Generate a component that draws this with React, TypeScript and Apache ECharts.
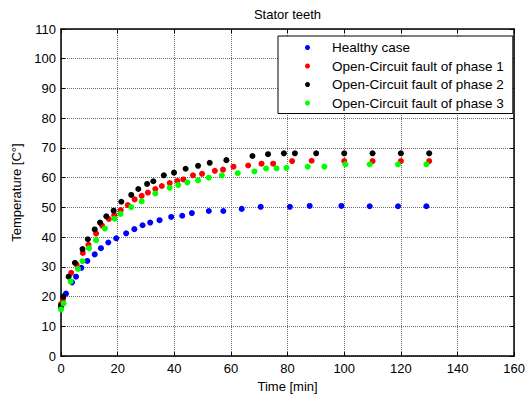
import React, { useEffect, useRef } from "react";
import * as echarts from "echarts";

const titleText = "Stator teeth";
const xName = "Time [min]";
const yName = "Temperature [C°]";
const seriesNames = [
  "Healthy case",
  "Open-Circuit fault of phase 1",
  "Open-Circuit fault of phase 2",
  "Open-Circuit fault of phase 3",
];
const seriesColors = ["#0000ff", "#ff0000", "#000000", "#00ff00"];

const healthyTime = [0, 1.75, 3.9, 5.3, 7.2, 9.3, 11.9, 14.1, 16.7, 19.5, 23, 25.9, 28.8, 31.5, 34.8, 38.9, 42.8, 46.2, 52.2, 57.3, 63.8, 70.5, 80.8, 87.8, 99, 109, 119, 129];
const healthyTemp = [16.5, 21, 24.8, 26.7, 29.7, 32, 34.2, 36.3, 38.2, 39.6, 41.3, 42.7, 44, 44.9, 45.7, 46.8, 47.2, 48.1, 48.8, 48.8, 49.5, 50.2, 50.2, 50.5, 50.5, 50.4, 50.4, 50.4];

const phase1Time = [0, 0.7, 3.6, 5.5, 7.7, 9.7, 12.4, 14.5, 16.9, 18.8, 21.1, 23.6, 26, 28.5, 30.7, 33.3, 35.6, 38.4, 41.1, 43.2, 46.6, 49.8, 54.3, 57.2, 60.9, 66.1, 70.8, 74.9, 81.6, 88.5, 100, 110, 120, 130];
const phase1Temp = [17.5, 19, 28, 30.8, 34.7, 37.4, 41.2, 43.9, 46.1, 47.4, 49.1, 50.8, 52.7, 53.9, 55, 56.2, 57.2, 58.2, 58.9, 59.4, 60.8, 61.3, 62.3, 62.7, 63.7, 64.1, 64.7, 64.7, 65.6, 65.7, 65.6, 65.6, 65.6, 65.6];

const phase2Time = [0, 0.8, 2.7, 4.9, 7.6, 9.5, 11.9, 13.8, 16, 18.6, 21.3, 24.8, 27.3, 30.4, 32.6, 36.3, 39.9, 44, 48.4, 52.5, 58.4, 67.6, 73.1, 78.7, 82.6, 90.1, 100, 110, 120, 130];
const phase2Temp = [17, 20, 26.7, 31.4, 36, 39.3, 42.6, 44.9, 47, 48.9, 51.9, 54.2, 56.2, 57.9, 58.8, 60.8, 61.7, 63, 64, 65, 65.9, 67.3, 67.9, 68.2, 68.2, 68.2, 68.2, 68.2, 68.2, 68.2];

const phase3Time = [0, 0.9, 3.4, 6, 7.6, 9.9, 12.4, 15.5, 18.9, 21, 24.8, 28.5, 33.3, 38.4, 41.4, 44.6, 48.4, 52.2, 56.8, 62.4, 68.3, 72.4, 76.1, 79.6, 87.1, 93, 100.4, 109, 119, 129];
const phase3Temp = [15.7, 17.7, 25.1, 29.3, 31.9, 36.3, 39, 42.9, 46.2, 47.8, 50.1, 52, 54.7, 56.6, 57.5, 58.4, 59.1, 60, 60.8, 61.5, 62.1, 63.1, 63.1, 63.3, 63.7, 63.7, 64.5, 64.5, 64.5, 64.5];

const seriesTimes = [healthyTime, phase1Time, phase2Time, phase3Time];
const seriesTemps = [healthyTemp, phase1Temp, phase2Temp, phase3Temp];

const FONT = "'Liberation Sans', Arial, sans-serif";

export default function App() {
  const ref = useRef<HTMLDivElement>(null);
  useEffect(() => {
    const chart = echarts.init(ref.current!, null, { renderer: "svg" });
    const gridLeft = 61;
    const gridRight = 10;
    const centerX = gridLeft + (528 - gridLeft - gridRight) / 2;
    const axisLine = { show: true, onZero: false, lineStyle: { color: "#000", width: 1.5 } };
    const tick = { show: true, inside: true, length: 4, lineStyle: { color: "#000", width: 1 } };
    const split = { show: true, lineStyle: { color: "#6a6a6a", type: "dotted" as const, width: 1 } };
    const label = { color: "#000", fontSize: 13, fontFamily: FONT };
    chart.setOption({
      animation: false,
      backgroundColor: "#fff",
      title: {
        text: titleText,
        left: centerX - 2,
        top: 8,
        textAlign: "center",
        padding: 0,
        textStyle: { color: "#000", fontSize: 13, fontWeight: "normal", fontFamily: FONT },
      },
      grid: { left: gridLeft, right: gridRight, top: 29, bottom: 39, containLabel: false },
      legend: {
        orient: "vertical",
        left: 278,
        top: 36,
        padding: [4, 9, 3, 27],
        itemGap: 3.5,
        itemWidth: 5,
        itemHeight: 5,
        icon: "circle",
        borderColor: "#000",
        borderWidth: 1,
        backgroundColor: "#fff",
        textStyle: { color: "#000", fontSize: 13.5, fontFamily: FONT, lineHeight: 15, padding: [0, 0, 0, 17] },
        data: seriesNames,
      },
      xAxis: [
        {
          type: "value",
          min: 0,
          max: 160,
          interval: 20,
          position: "bottom",
          axisLine,
          axisTick: tick,
          axisLabel: { ...label, margin: 6 },
          splitLine: split,
          name: xName,
          nameLocation: "middle",
          nameGap: 22,
          nameTextStyle: { color: "#000", fontSize: 13, fontFamily: FONT },
        },
        {
          type: "value",
          min: 0,
          max: 160,
          interval: 20,
          position: "top",
          axisLine,
          axisTick: tick,
          axisLabel: { show: false },
          splitLine: { show: false },
        },
      ],
      yAxis: [
        {
          type: "value",
          min: 0,
          max: 110,
          interval: 10,
          position: "left",
          axisLine,
          axisTick: tick,
          axisLabel: { ...label, margin: 5 },
          splitLine: split,
          name: yName,
          nameLocation: "middle",
          nameGap: 33,
          nameTextStyle: { color: "#000", fontSize: 13, fontFamily: FONT },
        },
        {
          type: "value",
          min: 0,
          max: 110,
          interval: 10,
          position: "right",
          axisLine,
          axisTick: tick,
          axisLabel: { show: false },
          splitLine: { show: false },
        },
      ],
      series: seriesNames.map((name, i) => ({
        name,
        type: "scatter",
        xAxisIndex: 0,
        yAxisIndex: 0,
        symbol: "circle",
        symbolSize: 6,
        itemStyle: { color: seriesColors[i], opacity: 1 },
        data: seriesTimes[i].map((t, j) => [t, seriesTemps[i][j]]),
      })),
    });
    return () => chart.dispose();
  }, []);
  return (
    <div
      ref={ref}
      style={{ position: "fixed", left: 0, top: 0, width: 528, height: 398, background: "#fff" }}
    />
  );
}
